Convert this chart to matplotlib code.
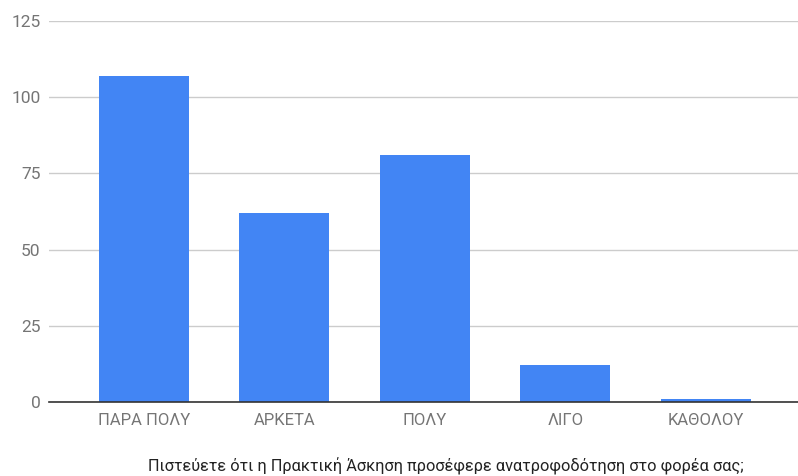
import matplotlib
matplotlib.use("Agg")
import matplotlib.pyplot as plt

categories = ["ΠΑΡΑ ΠΟΛΥ", "ΑΡΚΕΤΑ", "ΠΟΛΥ", "ΛΙΓΟ", "ΚΑΘΟΛΟΥ"]
values = [107, 62, 81, 12, 1]
yticks = [0, 25, 50, 75, 100, 125]
caption = "Πιστεύετε ότι η Πρακτική Άσκηση προσέφερε ανατροφοδότηση στο φορέα σας;"

plt.rcParams['font.family'] = ['Roboto', 'DejaVu Sans']

fig = plt.figure(figsize=(7.98, 4.76), dpi=100)
ax = fig.add_axes([49/798, (476-402)/476, 749/798, (402-21)/476])

x = list(range(len(categories)))
ax.bar(x, values, width=0.64, color="#4285F4", zorder=3)

ax.set_ylim(0, 125)
ax.set_xlim(-0.676, 4.657)
ax.set_yticks(yticks)
ax.set_xticks(x)
ax.set_xticklabels(categories)
ax.yaxis.grid(True, color="#cccccc", linewidth=1, zorder=0)
ax.xaxis.grid(False)
for s in ["top", "right", "left"]:
    ax.spines[s].set_visible(False)
ax.spines["bottom"].set_color("#333333")
ax.spines["bottom"].set_linewidth(1.2)
ax.spines["bottom"].set_zorder(4)
ax.tick_params(axis="y", length=0, pad=6, labelsize=12.5, labelcolor="#757575")
ax.tick_params(axis="x", length=0, pad=8, labelsize=12, labelcolor="#757575")

fig.text(446/798, 1 - 466/476, caption, ha="center", va="center", fontsize=11.8, color="#222222")

fig.savefig("out.png", dpi=100)
